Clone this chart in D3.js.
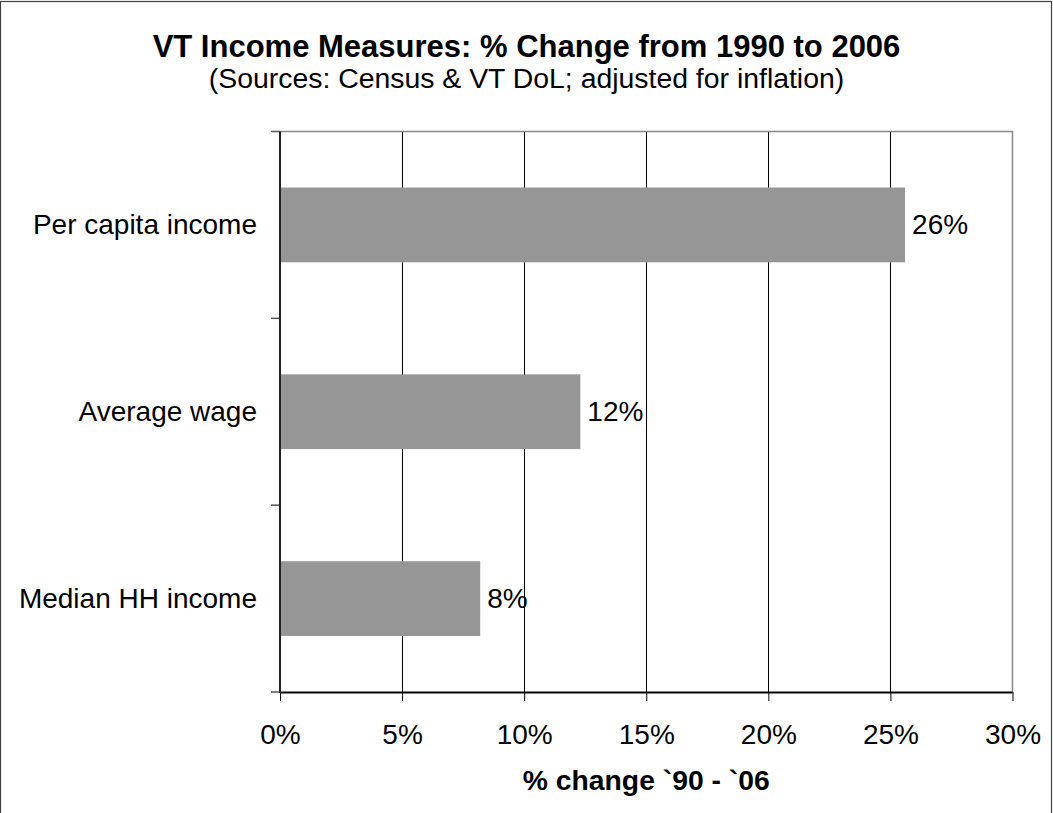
<!DOCTYPE html>
<html>
<head>
<meta charset="utf-8">
<script src="https://cdn.jsdelivr.net/npm/d3@7"></script>
<style>
  html, body { margin: 0; padding: 0; background: #fff; }
  svg { display: block; }
  text { font-family: Arial, "Liberation Sans", sans-serif; fill: #000; }
</style>
</head>
<body>
<script>
const categories = ["Per capita income", "Average wage", "Median HH income"];
const values = [25.6, 12.3, 8.2];
const valueLabels = ["26%", "12%", "8%"];
const xTicks = [0, 5, 10, 15, 20, 25, 30];
const xTickLabels = ["0%", "5%", "10%", "15%", "20%", "25%", "30%"];
const title = "VT Income Measures: % Change from 1990 to 2006";
const subtitle = "(Sources: Census & VT DoL; adjusted for inflation)";
const xTitle = "% change `90 - `06";

const W = 1053, H = 813;
const plot = { left: 280, right: 1012.5, top: 131.5, bottom: 692 };

const svg = d3.select("body").append("svg").attr("width", W).attr("height", H);

// outer frame
svg.append("rect").attr("x", 0.5).attr("y", 1.5).attr("width", 1051).attr("height", 900)
  .attr("fill", "none").attr("stroke", "#404040").attr("stroke-width", 1.2);

const x = d3.scaleLinear().domain([0, 30]).range([plot.left, plot.right]);
const y = d3.scaleBand().domain(categories).range([plot.top, plot.bottom])
  .paddingInner(0.6).paddingOuter(0.3);
const step = y.step();

// vertical gridlines
svg.append("g").selectAll("line").data(xTicks.filter(t => t > 0 && t < 30)).join("line")
  .attr("x1", d => Math.round(x(d)) + 0.5).attr("x2", d => Math.round(x(d)) + 0.5)
  .attr("y1", plot.top).attr("y2", plot.bottom)
  .attr("stroke", "#000").attr("stroke-width", 1);

// plot top & right border (gray)
svg.append("path")
  .attr("d", `M${plot.left},${plot.top}H${plot.right}V${plot.bottom}`)
  .attr("fill", "none").attr("stroke", "#888").attr("stroke-width", 1.5);

// bars
svg.append("g").selectAll("rect").data(categories).join("rect")
  .attr("x", plot.left)
  .attr("y", d => y(d))
  .attr("width", (d, i) => x(values[i]) - x(0))
  .attr("height", y.bandwidth())
  .attr("fill", "#969696");

// value labels
svg.append("g").selectAll("text").data(categories).join("text")
  .attr("x", (d, i) => x(values[i]) + 7)
  .attr("y", d => y(d) + y.bandwidth() / 2 + 9.5)
  .attr("font-size", "28px")
  .text((d, i) => valueLabels[i]);

// x axis
const xAxis = d3.axisBottom(x).tickValues(xTicks).tickSize(9)
  .tickFormat((d, i) => xTickLabels[i]);
const gx = svg.append("g").attr("transform", `translate(0,${plot.bottom})`).call(xAxis);
gx.select(".domain").attr("stroke", "#000").attr("stroke-width", 2)
  .attr("d", `M${plot.left},0.5H${plot.right}`);
gx.selectAll(".tick line").attr("stroke", "#000").attr("stroke-width", 1);
gx.selectAll(".tick text").attr("font-size", "28px").attr("dy", null).attr("y", 52)
  .attr("font-family", "Arial, 'Liberation Sans', sans-serif").attr("fill", "#000");

// y axis: line + category boundary ticks
const boundaries = d3.range(categories.length + 1).map(i => plot.top + i * step);
svg.append("g").selectAll("line").data(boundaries).join("line")
  .attr("x1", plot.left - 9).attr("x2", plot.left)
  .attr("y1", d => d).attr("y2", d => d)
  .attr("stroke", "#555").attr("stroke-width", 1.5);
svg.append("line").attr("x1", plot.left).attr("x2", plot.left)
  .attr("y1", plot.top).attr("y2", plot.bottom + 1)
  .attr("stroke", "#222").attr("stroke-width", 2);

// category labels
svg.append("g").selectAll("text").data(categories).join("text")
  .attr("x", 257).attr("y", d => y(d) + y.bandwidth() / 2 + 9.5)
  .attr("text-anchor", "end").attr("font-size", "28px")
  .text(d => d);

// titles
svg.append("text").attr("x", 526.5).attr("y", 57).attr("text-anchor", "middle")
  .attr("font-size", "31px").attr("font-weight", "bold").text(title);
svg.append("text").attr("x", 526.5).attr("y", 88).attr("text-anchor", "middle")
  .attr("font-size", "28.4px").text(subtitle);
svg.append("text").attr("x", (plot.left + plot.right) / 2).attr("y", 790).attr("text-anchor", "middle")
  .attr("font-size", "28.3px").attr("font-weight", "bold").text(xTitle);
</script>
</body>
</html>
